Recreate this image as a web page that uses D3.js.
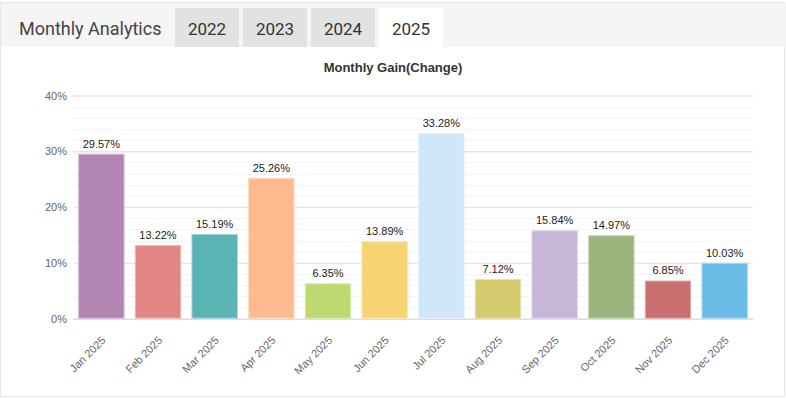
<!DOCTYPE html>
<html>
<head>
<meta charset="utf-8">
<script src="https://cdn.jsdelivr.net/npm/d3@7"></script>
<style>
  html, body { margin: 0; padding: 0; background: #fff; }
  svg { display: block; }
</style>
</head>
<body>
<svg id="chart" width="786" height="399"></svg>
<script>
'use strict';

var MONTHS = ['Jan 2025', 'Feb 2025', 'Mar 2025', 'Apr 2025', 'May 2025', 'Jun 2025',
              'Jul 2025', 'Aug 2025', 'Sep 2025', 'Oct 2025', 'Nov 2025', 'Dec 2025'];
var GAINS = [29.57, 13.22, 15.19, 25.26, 6.35, 13.89, 33.28, 7.12, 15.84, 14.97, 6.85, 10.03];
var COLORS = ['#b385b3', '#e28784', '#5bb4b4', '#ffbb8f', '#bed970', '#f7d471',
              '#d0e6f9', '#d3cb6d', '#c6b6d8', '#9cb47d', '#c87070', '#6abce7'];
var Y_TICKS = [0, 10, 20, 30, 40];
var TABS = ['2022', '2023', '2024', '2025'];

var svg = d3.select('#chart');

// panel frame + header
svg.append('rect')
    .attr('x', 0.5).attr('y', 2.5)
    .attr('width', 784).attr('height', 394)
    .attr('fill', '#fff')
    .attr('stroke', '#e6e6e6');

svg.append('rect')
    .attr('x', 1).attr('y', 3)
    .attr('width', 785).attr('height', 44)
    .attr('fill', '#f5f5f5');

svg.append('text')
    .attr('x', 19).attr('y', 35)
    .style('font-family', 'Roboto, sans-serif')
    .style('font-size', '18px')
    .attr('fill', '#444')
    .text('Monthly Analytics');

var tab = svg.selectAll('g.tab')
    .data(TABS)
    .enter().append('g')
    .attr('class', 'tab')
    .attr('transform', function(d, i) { return 'translate(' + (175 + i * 68) + ',8)'; });

tab.append('rect')
    .attr('width', 64).attr('height', 39)
    .attr('fill', function(d, i) { return i === TABS.length - 1 ? '#fff' : '#e2e2e2'; });

tab.append('text')
    .attr('x', 32).attr('y', 27)
    .attr('text-anchor', 'middle')
    .style('font-family', 'Roboto, sans-serif')
    .style('font-size', '17px')
    .attr('fill', '#333')
    .text(function(d) { return d; });

// chart
var plotLeft = 73, plotRight = 753, plotTop = 95.5, plotBottom = 318.7;

var x = d3.scaleBand()
    .domain(MONTHS)
    .range([plotLeft, plotRight])
    .paddingInner(0.18)
    .paddingOuter(0.09);

var y = d3.scaleLinear()
    .domain([0, 40])
    .range([plotBottom, plotTop]);

svg.append('text')
    .attr('x', 393).attr('y', 72)
    .attr('text-anchor', 'middle')
    .style('font-family', 'Liberation Sans, Arial, sans-serif')
    .style('font-size', '13px')
    .style('font-weight', 'bold')
    .attr('fill', '#333')
    .text('Monthly Gain(Change)');

// minor grid every 2%
svg.append('g')
    .selectAll('line')
    .data(d3.range(0, 41, 2).filter(function(v) { return v % 10 !== 0; }))
    .enter().append('line')
    .attr('x1', plotLeft).attr('x2', plotRight)
    .attr('y1', function(d) { return Math.round(y(d)) + 0.5; })
    .attr('y2', function(d) { return Math.round(y(d)) + 0.5; })
    .attr('stroke', '#f3f3f3');

var yAxis = svg.append('g')
    .attr('transform', 'translate(' + plotLeft + ',0)')
    .call(d3.axisLeft(y)
        .tickValues(Y_TICKS)
        .tickSize(-(plotRight - plotLeft))
        .tickPadding(6)
        .tickFormat(function(d) { return d + '%'; }));

yAxis.select('.domain').remove();
yAxis.selectAll('.tick line')
    .attr('stroke', function(d) { return d === 0 ? '#dddddd' : '#e6e6e6'; })
    .attr('stroke-width', 1.5);
yAxis.selectAll('.tick text')
    .attr('fill', '#666')
    .style('font-family', 'Liberation Sans, Arial, sans-serif')
    .style('font-size', '11px');

// bars
svg.append('g')
    .selectAll('rect')
    .data(GAINS)
    .enter().append('rect')
    .attr('x', function(d, i) { return x(MONTHS[i]) + 0.5; })
    .attr('y', function(d) { return y(d) + 0.5; })
    .attr('width', x.bandwidth() - 1)
    .attr('height', function(d) { return y(0) - y(d) - 1; })
    .attr('fill', function(d, i) { return COLORS[i]; })
    .attr('stroke', function(d, i) { return d3.interpolateRgb(COLORS[i], '#fff')(0.45); })
    .attr('stroke-width', 1);

// value labels
svg.append('g')
    .selectAll('text')
    .data(GAINS)
    .enter().append('text')
    .attr('x', function(d, i) { return x(MONTHS[i]) + x.bandwidth() / 2; })
    .attr('y', function(d) { return y(d) - 6; })
    .attr('text-anchor', 'middle')
    .style('font-family', 'Liberation Sans, Arial, sans-serif')
    .style('font-size', '11px')
    .attr('fill', '#222')
    .text(function(d) { return d.toFixed(2) + '%'; });

// rotated month labels
svg.append('g')
    .selectAll('text')
    .data(MONTHS)
    .enter().append('text')
    .attr('transform', function(d) {
        var cx = x(d) + x.bandwidth() / 2 + 5;
        return 'translate(' + cx + ',' + 341 + ') rotate(-45)';
    })
    .attr('text-anchor', 'end')
    .style('font-family', 'Liberation Sans, Arial, sans-serif')
    .style('font-size', '11px')
    .attr('fill', '#666')
    .text(function(d) { return d; });
</script>
</body>
</html>
